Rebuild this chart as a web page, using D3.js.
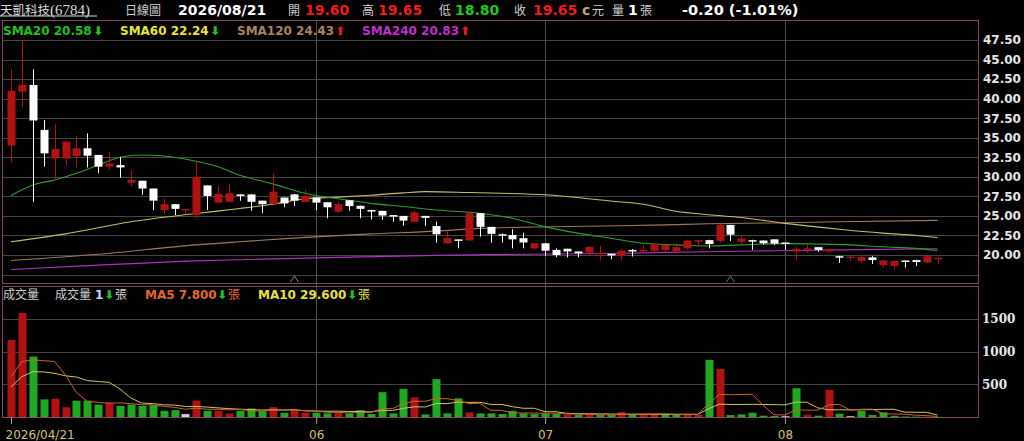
<!DOCTYPE html>
<html><head><meta charset="utf-8">
<script src="https://cdn.jsdelivr.net/npm/d3@7"></script>
<style>
html,body{margin:0;padding:0;background:#000;overflow:hidden}
svg{display:block}
</style></head><body>
<svg id="c" width="1024" height="441"></svg>
<script>
// ---------- DATA ----------
const dates = [
 "2026/04/21","2026/04/22","2026/04/23","2026/04/24","2026/04/27","2026/04/28","2026/04/29","2026/04/30",
 "2026/05/04","2026/05/05","2026/05/06","2026/05/07","2026/05/08","2026/05/11","2026/05/12","2026/05/13","2026/05/14","2026/05/15",
 "2026/05/18","2026/05/19","2026/05/20","2026/05/21","2026/05/22","2026/05/25","2026/05/26","2026/05/27","2026/05/28","2026/05/29",
 "2026/06/01","2026/06/02","2026/06/03","2026/06/04","2026/06/05","2026/06/08","2026/06/09","2026/06/10","2026/06/11","2026/06/12",
 "2026/06/15","2026/06/16","2026/06/17","2026/06/18","2026/06/22","2026/06/23","2026/06/24","2026/06/25","2026/06/26","2026/06/29","2026/06/30",
 "2026/07/01","2026/07/02","2026/07/03","2026/07/06","2026/07/07","2026/07/08","2026/07/09","2026/07/13","2026/07/14","2026/07/15",
 "2026/07/16","2026/07/17","2026/07/20","2026/07/21","2026/07/22","2026/07/23","2026/07/24","2026/07/27","2026/07/28","2026/07/29","2026/07/30","2026/07/31",
 "2026/08/03","2026/08/04","2026/08/05","2026/08/06","2026/08/07","2026/08/10","2026/08/11","2026/08/12","2026/08/13","2026/08/14",
 "2026/08/17","2026/08/18","2026/08/19","2026/08/20","2026/08/21"
];
const open  = [34.0,40.9,41.75,36.0,32.35,32.35,32.65,33.65,32.8,31.3,31.5,29.25,29.5,28.5,25.75,26.5,25.8,25.1,28.9,26.7,26.8,27.75,27.75,26.95,26.5,27.35,27.75,26.8,27.35,26.75,25.55,27.0,26.3,25.75,25.65,25.1,25.0,24.25,25.0,23.7,21.5,22.0,21.85,25.35,23.6,22.65,22.55,22.15,20.85,21.5,20.65,20.8,20.45,20.3,20.15,20.15,19.85,20.65,20.45,20.55,20.65,20.45,20.85,21.8,21.9,21.8,23.85,21.7,21.9,21.85,22.0,21.6,20.45,20.65,21.0,20.45,19.85,19.7,19.25,19.7,18.7,18.6,19.3,19.35,19.05,19.60];
const high  = [43.75,47.5,43.75,37.25,36.7,34.6,35.2,35.55,32.8,33.2,32.55,30.8,29.5,28.5,27.2,26.5,25.9,31.9,28.9,28.75,29.1,27.75,27.75,26.95,30.45,27.35,27.8,28.3,27.35,26.75,26.8,27.05,26.3,25.8,25.65,25.1,25.0,25.65,25.0,24.25,23.0,22.0,25.35,25.35,23.6,22.75,23.3,22.85,21.5,21.5,20.85,20.8,20.45,21.05,21.15,20.15,20.75,20.75,21.3,21.45,21.3,21.3,21.95,21.95,21.95,24.05,23.85,22.45,21.95,21.85,22.0,21.6,21.0,21.3,21.0,20.8,19.9,19.85,20.0,19.85,19.4,19.3,19.3,19.4,19.85,19.65];
const low   = [31.9,38.9,26.8,31.3,29.6,31.5,31.2,31.2,30.45,31.0,29.9,28.75,27.7,25.75,25.25,25.1,25.25,24.7,25.75,26.7,26.8,26.95,25.65,25.35,26.5,26.1,26.25,26.8,25.75,24.7,25.4,25.65,24.7,24.55,24.5,24.25,23.75,24.15,23.75,21.6,21.45,20.85,21.85,22.35,21.6,21.6,20.85,20.85,20.65,19.9,19.7,19.7,19.7,20.0,19.3,19.45,19.35,19.8,20.45,20.15,20.3,20.45,20.75,21.05,20.85,21.6,21.8,21.4,20.65,21.35,21.25,20.65,19.35,20.3,20.4,20.3,19.0,19.3,18.95,18.85,18.4,18.15,18.4,18.6,19.0,18.80];
const close = [41.0,41.75,37.2,33.0,33.55,34.5,33.65,32.7,31.3,31.7,31.2,29.6,28.5,26.95,26.5,25.9,25.9,30.0,27.55,27.8,27.9,27.6,26.8,26.5,28.1,26.6,26.95,27.55,26.7,26.1,26.5,26.25,25.9,25.65,25.05,24.9,24.4,25.45,24.75,22.65,22.15,21.85,25.35,23.6,22.7,22.5,22.0,21.6,21.5,20.55,20.0,20.45,20.2,21.05,20.3,19.95,20.55,20.45,20.65,21.4,21.3,21.0,21.85,21.9,21.4,23.85,22.6,22.1,21.75,21.5,21.45,21.45,20.8,20.85,20.65,20.75,19.8,19.8,19.75,19.35,19.3,19.25,19.2,19.1,19.85,19.65];
const volume = [1180,1590,925,270,280,150,250,250,190,220,170,190,170,180,95,105,45,250,95,95,55,95,130,90,150,65,105,65,65,55,70,55,105,45,380,55,430,300,40,580,55,285,70,55,55,45,95,55,45,55,45,40,30,35,30,30,75,40,45,45,40,40,35,35,875,735,30,40,65,20,15,12,440,35,20,415,50,12,95,30,70,18,8,6,6,1];
const prevClose = 33.5;                       // close of the session before 2026/04/21
const priorVolumes = [30,160,320,480,540,438,794,326,348]; // sessions before 2026/04/21 (for MA5/MA10)

// moving averages: [date index, value]
const sma20  = [[0,27.6],[2,28.95],[4,29.6],[6,30.45],[8,31.5],[10,32.5],[12,32.8],[13,32.75],[15,32.5],[17,32.0],[19,31.3],[21,30.2],[24,29.1],[27,27.9],[28,27.6],[30,27.2],[33,26.6],[36,26.2],[39,25.75],[43,25.35],[46,24.7],[49,23.6],[52,22.8],[55,22.15],[58,21.5],[61,21.3],[64,21.15],[67,21.3],[71,21.45],[74,21.4],[77,21.3],[80,21.05],[83,20.85],[85,20.58]];
const sma60  = [[0,21.7],[5,22.7],[11,24.25],[17,25.3],[21,25.95],[24,26.5],[27,27.2],[30,27.4],[33,27.65],[36,27.95],[38,28.1],[42,28.0],[45,27.9],[49,27.7],[55,26.9],[58,26.5],[61,25.6],[64,25.15],[67,24.8],[71,24.05],[76,23.3],[80,22.8],[83,22.5],[85,22.24]];
const sma120 = [[0,19.3],[8,20.1],[17,21.3],[21,21.7],[27,22.25],[33,22.7],[39,23.05],[43,23.4],[47,23.55],[56,23.75],[60,23.85],[64,24.0],[70,24.1],[76,24.25],[85,24.43]];
const sma240 = [[0,18.15],[8,18.7],[17,19.25],[21,19.4],[30,19.7],[39,19.95],[44,20.05],[55,20.2],[65,20.45],[70,20.55],[76,20.65],[85,20.8]];

const priceGrid   = [17.5,20,22.5,25,27.5,30,32.5,35,37.5,40,42.5,45,47.5];
const priceLabels = [20,22.5,25,27.5,30,32.5,35,37.5,40,42.5,45,47.5];
const volumeTicks = [500,1000,1500];
const dateTicks   = [{d:"2026/04/21",t:"2026/04/21"},{d:"2026/06/01",t:"06"},{d:"2026/07/01",t:"07"},{d:"2026/08/03",t:"08"}];
const monthLines  = ["2026/06/01","2026/07/01","2026/08/03"];
const markers     = [{d:"2026/05/28",c:"#8a8a8a"},{d:"2026/07/27",c:"#3a8a3a"}];

// ---------- DRAW ----------
const RED="#b01212", WHITE="#ffffff", GREEN="#20a820";
const svg = d3.select("#c");
svg.append("rect").attr("width",1024).attr("height",441).attr("fill","#000");

const L=3, R=978, PT=20, PB=283, VT=286, VB=417;
const x  = d3.scalePoint().domain(dates).range([11, 937.5]);
const yP = d3.scaleLinear().domain([20,47.5]).range([255,40]);
const yV = d3.scaleLinear().domain([0,1500]).range([417,319]);

// grids
const g = svg.append("g");
g.selectAll(".pg").data(priceGrid).join("line")
  .attr("x1",L).attr("x2",R).attr("y1",d=>Math.round(yP(d))+0.5).attr("y2",d=>Math.round(yP(d))+0.5)
  .attr("stroke","#454545").attr("stroke-width",1);
g.selectAll(".vg").data(volumeTicks).join("line")
  .attr("x1",L).attr("x2",R).attr("y1",d=>Math.round(yV(d))+0.5).attr("y2",d=>Math.round(yV(d))+0.5)
  .attr("stroke","#454545").attr("stroke-width",1);
g.selectAll(".ml").data(monthLines).join("line")
  .attr("x1",d=>Math.round(x(d))+0.5).attr("x2",d=>Math.round(x(d))+0.5).attr("y1",PT).attr("y2",VB)
  .attr("stroke","#4a4a4a").attr("stroke-width",1);

// frames
const FR="#7e4c62";
svg.append("rect").attr("x",L-0.5).attr("y",PT+0.5).attr("width",R-L+1).attr("height",PB-PT).attr("fill","none").attr("stroke",FR);
svg.append("rect").attr("x",L-0.5).attr("y",VT+0.5).attr("width",R-L+1).attr("height",VB-VT).attr("fill","none").attr("stroke",FR);

// right axes
const ax1 = svg.append("g").attr("transform",`translate(${R},0)`)
  .call(d3.axisRight(yP).tickValues(priceLabels).tickFormat(d3.format(".2f")).tickSize(0).tickPadding(5));
ax1.select(".domain").remove();
ax1.selectAll("text").attr("fill","#e6e6e6").style("font","bold 12px 'DejaVu Sans'");
const ax2 = svg.append("g").attr("transform",`translate(${R},0)`)
  .call(d3.axisRight(yV).tickValues(volumeTicks).tickFormat(d3.format("d")).tickSize(0).tickPadding(4));
ax2.select(".domain").remove();
ax2.selectAll("text").attr("fill","#e6e6e6").style("font","bold 12px 'DejaVu Serif'");

// bottom axis
const ax3 = svg.append("g").attr("transform",`translate(0,${VB})`)
  .call(d3.axisBottom(x).tickValues(dateTicks.map(d=>d.d)).tickFormat(d=>dateTicks.find(t=>t.d===d).t).tickSize(7).tickPadding(6));
ax3.select(".domain").remove();
ax3.selectAll("line").attr("stroke","#a0a0a0");
ax3.selectAll("text").attr("fill","#d2c276").style("font","12px 'DejaVu Sans'");
ax3.selectAll(".tick").filter(d=>d==="2026/04/21").select("text").attr("text-anchor","start").attr("dx",-6);

// MA lines
const maLine = d3.line().x(p=>x(dates[p[0]])).y(p=>yP(p[1])).curve(d3.curveMonotoneX);
const maDefs = [[sma240,"#b030c0"],[sma120,"#9c7a5c"],[sma60,"#c0c068"],[sma20,"#2e9e2e"]];
maDefs.forEach(([data,col])=>{
  svg.append("path").attr("d",maLine(data)).attr("fill","none").attr("stroke",col).attr("stroke-width",1.1);
});

// candles
const idx = d3.range(dates.length);
const cg = svg.append("g");
const cw = 8;
cg.selectAll(".wick").data(idx).join("line")
  .attr("x1",i=>Math.round(x(dates[i]))+0.5).attr("x2",i=>Math.round(x(dates[i]))+0.5)
  .attr("y1",i=>yP(high[i])).attr("y2",i=>yP(low[i]))
  .attr("stroke",i=>close[i]>open[i]?RED:WHITE).attr("stroke-width",1);
cg.selectAll(".body").data(idx).join("rect")
  .attr("x",i=>Math.round(x(dates[i]))-cw/2+0.5).attr("width",cw)
  .attr("y",i=>yP(Math.max(open[i],close[i])))
  .attr("height",i=>Math.max(1.5,Math.abs(yP(open[i])-yP(close[i]))))
  .attr("fill",i=>close[i]>open[i]?RED:WHITE);

// markers
svg.selectAll(".mk").data(markers).join("path")
  .attr("d",m=>{const cx=x(m.d); return `M${cx-4},${PB-1}L${cx},${PB-7}L${cx+4},${PB-1}`;})
  .attr("fill","none").attr("stroke",m=>m.c).attr("stroke-width",1);

// volume bars
const volCol = i => { const pc = i? close[i-1] : prevClose;
  return close[i]>pc ? RED : (close[i]<pc ? GREEN : "#d0d0d0"); };
svg.append("g").selectAll("rect").data(idx).join("rect")
  .attr("x",i=>Math.round(x(dates[i]))-cw/2+0.5).attr("width",cw)
  .attr("y",i=>yV(volume[i])).attr("height",i=>Math.max(0.5,yV(0)-yV(volume[i])))
  .attr("fill",volCol);

// volume MAs
const allVol = priorVolumes.concat(volume);
const off = priorVolumes.length;
const ma = n => idx.map(i=>[i, d3.mean(allVol.slice(i+off-n+1, i+off+1))]);
const vLine = d3.line().x(p=>x(dates[p[0]])).y(p=>yV(p[1]));
svg.append("path").attr("d",vLine(ma(10))).attr("fill","none").attr("stroke","#cfc862").attr("stroke-width",1);
svg.append("path").attr("d",vLine(ma(5))).attr("fill","none").attr("stroke","#c8642e").attr("stroke-width",1);

// ---------- TEXT ----------
const T = (xx,yy,t,fill,font)=> svg.append("text").attr("x",xx).attr("y",yy).attr("fill",fill).style("font",font).text(t);
const CJK = "12px 'Noto Sans CJK TC'";
const NUM = "bold 14px 'DejaVu Sans'";
const HR="#f01c1c", HG="#22c422";
const title = svg.append("text").attr("x",0).attr("y",14.5).attr("fill","#dcdcdc");
title.append("tspan").style("font","12.5px 'Noto Sans CJK TC'").text("天凱科技");
title.append("tspan").style("font","15px 'Liberation Serif'").text("(6784)");
svg.append("line").attr("x1",0).attr("x2",97).attr("y1",16).attr("y2",16).attr("stroke","#dcdcdc");
T(125,14.5,"日線圖","#d0d0d0",CJK);
T(178,14.5,"2026/08/21","#ffffff",NUM);
T(288,14.5,"開","#d0d0d0",CJK);
T(305,14.5,"19.60",HR,NUM);
T(362,14.5,"高","#d0d0d0",CJK);
T(378,14.5,"19.65",HR,NUM);
T(439,14.5,"低","#d0d0d0",CJK);
T(455,14.5,"18.80",HG,NUM);
T(514,14.5,"收","#d0d0d0",CJK);
T(533,14.5,"19.65",HR,NUM);
T(582,14.5,"c","#c8a070",NUM);
T(592,14.5,"元","#d0d0d0",CJK);
T(612,14.5,"量","#d0d0d0",CJK);
T(628,14.5,"1","#ffffff",NUM);
T(640,14.5,"張","#d0d0d0",CJK);
T(682,14.5,"-0.20 (-1.01%)","#ffffff","bold 14.5px 'DejaVu Sans'");

const LF = "bold 12px 'DejaVu Sans'";
T(3,35,"SMA20 20.58","#22c022",LF);  T(93,35,"⬇","#22c022",LF);
T(120,35,"SMA60 22.24","#e6e632",LF); T(210,35,"⬇","#22c022",LF);
T(237,35,"SMA120 24.43","#a88466",LF); T(335,35,"⬆","#e01c1c",LF);
T(362,35,"SMA240 20.83","#c030c8",LF); T(460,35,"⬆","#e01c1c",LF);

const VF = "12px 'Noto Sans CJK TC'";
T(3,299,"成交量","#cfcfcf",VF);
T(55,299,"成交量","#cfcfcf",VF);
T(95,299,"1","#c8d4ff",LF);
T(104,299,"⬇","#22c022",LF);
T(115,299,"張","#cfcfcf",VF);
T(145,299,"MA5 7.800","#e0682e",LF);
T(217,299,"⬇","#22c022",LF);
T(228,299,"張","#e0682e",VF);
T(258,299,"MA10 29.600","#e6e040",LF);
T(347,299,"⬇","#22c022",LF);
T(358,299,"張","#e6e040",VF);
</script>
</body></html>
